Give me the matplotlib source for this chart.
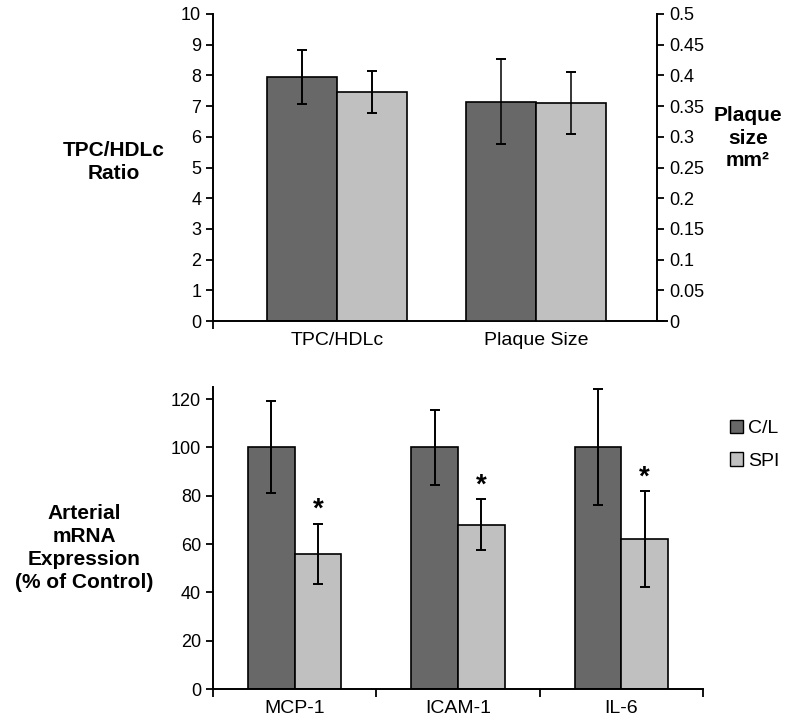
import numpy as np
import matplotlib
matplotlib.use('Agg')
import matplotlib.pyplot as plt
from matplotlib.patches import Patch

plt.rcParams['font.family'] = ['Liberation Sans', 'DejaVu Sans']

# top panel: lipid ratio (left axis) and plaque size (right axis)
top_categories = ['TPC/HDLc', 'Plaque Size']
tpc_hdl_mean = [7.95, 7.45]
tpc_hdl_err = [0.87, 0.68]
plaque_mean = [0.357, 0.355]
plaque_err = [0.069, 0.050]

# bottom panel: arterial mRNA expression
groups = ['C/L', 'SPI']
genes = ['MCP-1', 'ICAM-1', 'IL-6']
cl_mrna = [100, 100, 100]
cl_mrna_err = [19.0, 15.5, 24.0]
spi_mrna = [56, 68, 62]
spi_mrna_err = [12.5, 10.5, 19.8]
spi_significant = [True, True, True]

DARK = '#686868'
LIGHT = '#c0c0c0'

fig = plt.figure(figsize=(7.86, 7.26), dpi=100)

# ---- top panel ----
ax = fig.add_axes([213/786, 1 - 321/726, 454/786, 307/726])
ax2 = ax.twinx()
w = 0.35
ekw = dict(ecolor='black', elinewidth=1.4, capsize=3.5, capthick=1.4)
ax.bar([0 - w/2], [tpc_hdl_mean[0]], w, color=DARK, edgecolor='black', linewidth=1.2,
       yerr=[tpc_hdl_err[0]], error_kw=ekw)
ax.bar([0 + w/2], [tpc_hdl_mean[1]], w, color=LIGHT, edgecolor='black', linewidth=1.2,
       yerr=[tpc_hdl_err[1]], error_kw=ekw)
ekw_thin = dict(ecolor='black', elinewidth=1.1, capsize=3.5, capthick=1.4)
ax2.bar([1 - w/2], [plaque_mean[0]], w, color=DARK, edgecolor='black', linewidth=1.2,
        yerr=[plaque_err[0]], error_kw=ekw_thin)
ax2.bar([1 + w/2], [plaque_mean[1]], w, color=LIGHT, edgecolor='black', linewidth=1.2,
        yerr=[plaque_err[1]], error_kw=ekw_thin)

ax.set_xlim(-0.623, 1.658)
ax.set_ylim(0, 10)
ax2.set_ylim(0, 0.5)
ax.set_yticks(np.arange(0, 11, 1))
ax2.set_yticks(np.arange(0, 0.51, 0.05))
ax2.set_yticklabels([f'{v:g}' for v in np.round(np.arange(0, 0.51, 0.05), 2)])
ax.set_xticks([0, 1])
ax.set_xticklabels(top_categories, fontsize=14)
ax.tick_params(axis='x', length=0, pad=8)
ax.tick_params(axis='y', labelsize=13, length=5, width=1.3, direction='out')
ax2.tick_params(axis='y', labelsize=13, length=5, width=1.3, direction='out')
ax.set_xticks([-0.623], minor=True)
ax.tick_params(axis='x', which='minor', length=6, width=1.3, direction='out')
for a in (ax, ax2):
    a.spines['top'].set_visible(False)
    for s in a.spines.values():
        s.set_linewidth(1.4)
ax.spines['right'].set_visible(False)
ax2.spines['left'].set_visible(False)
ax2.spines['bottom'].set_visible(False)
ax2.spines['right'].set_position(('axes', (657 - 213) / 454))

fig.text(114/786, 1 - 162/726, 'TPC/HDLc\nRatio', ha='center', va='center',
         fontsize=15, fontweight='bold', linespacing=1.3)
fig.text(748/786, 1 - 138/726, 'Plaque\nsize\nmm²', ha='center', va='center',
         fontsize=15, fontweight='bold', linespacing=1.25)

# ---- bottom panel ----
bx = fig.add_axes([213/786, 1 - 689/726, 490/786, 302/726])
x = np.arange(len(genes))
wb = 0.285
ekw_b = dict(ecolor='black', elinewidth=1.4, capsize=3.5, capthick=1.4)
bx.bar(x - wb/2, cl_mrna, wb, color=DARK, edgecolor='black', linewidth=1.2,
       yerr=cl_mrna_err, error_kw=ekw_b, label=groups[0])
bx.bar(x + wb/2, spi_mrna, wb, color=LIGHT, edgecolor='black', linewidth=1.2,
       yerr=spi_mrna_err, error_kw=ekw_b, label=groups[1])
for i, sig in enumerate(spi_significant):
    if sig:
        bx.text(x[i] + wb/2, spi_mrna[i] + spi_mrna_err[i] + 0.5, '*', ha='center',
                va='bottom', fontsize=20, fontweight='bold')

bx.set_xlim(-0.5, 2.5)
bx.set_ylim(0, 125)
bx.set_yticks(np.arange(0, 121, 20))
bx.set_xticks(x)
bx.set_xticklabels(genes, fontsize=14)
bx.tick_params(axis='x', length=0, pad=8)
bx.set_xticks(np.arange(-0.5, 2.6, 1), minor=True)
bx.tick_params(axis='x', which='minor', length=6, width=1.3, direction='out')
bx.tick_params(axis='y', labelsize=13, length=5, width=1.3, direction='out')
bx.spines['top'].set_visible(False)
bx.spines['right'].set_visible(False)
for s in bx.spines.values():
    s.set_linewidth(1.4)

fig.text(84/786, 1 - 548/726, 'Arterial\nmRNA\nExpression\n(% of Control)', ha='center',
         va='center', fontsize=15, fontweight='bold', linespacing=1.25)

handles = [Patch(facecolor=DARK, edgecolor='black', linewidth=1.0),
           Patch(facecolor=LIGHT, edgecolor='black', linewidth=1.0)]
fig.legend(handles, groups, loc='upper left', bbox_to_anchor=(722/786, 1 - 412/726),
           frameon=False, fontsize=14, handlelength=0.7, handleheight=0.7,
           handletextpad=0.25, labelspacing=0.75, borderaxespad=0)

fig.savefig('out.png', dpi=100)
